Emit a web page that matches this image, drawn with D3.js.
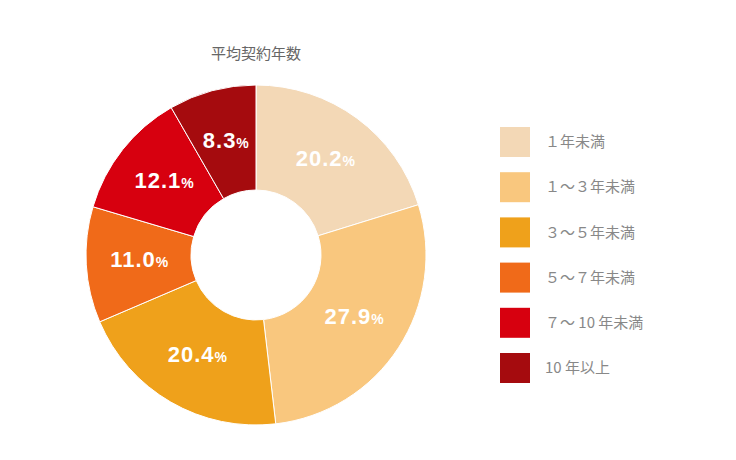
<!DOCTYPE html>
<html><head><meta charset="utf-8">
<script src="https://cdn.jsdelivr.net/npm/d3@7"></script>
<style>body{margin:0;background:#fff}</style></head>
<body><svg id="c" width="736" height="460"></svg>
<script>
const title = "平均契約年数";
const categories = ["１年未満","１～３年未満","３～５年未満","５～７年未満","７～ 10 年未満","10 年以上"];
const values = [20.2, 27.9, 20.4, 11.0, 12.1, 8.3];
const colors = ["#F3D8B6","#F9C77E","#EFA11B","#F06A19","#D7000F","#A50B0E"];

const svg = d3.select("#c");
const font = "'Noto Sans CJK JP','Noto Sans',sans-serif";
const cx = 256, cy = 255, R = 170, r = 65;
svg.append("text").attr("x", cx).attr("y", 59).attr("text-anchor","middle")
  .attr("font-family", font).attr("font-size", 15).attr("fill", "#666").text(title);

const pie = d3.pie().sort(null).value(d => d)(values);
const arc = d3.arc().innerRadius(r).outerRadius(R);
const labelArc = d3.arc().innerRadius(117).outerRadius(117);
const g = svg.append("g").attr("transform", `translate(${cx},${cy})`);
g.selectAll("path").data(pie).join("path").attr("d", arc)
  .attr("fill", (d,i) => colors[i]).attr("stroke","#fff").attr("stroke-width",1);
g.selectAll("text").data(pie).join("text")
  .attr("transform", d => `translate(${labelArc.centroid(d)})`)
  .attr("text-anchor","middle").attr("dy","0.35em")
  .attr("font-family","'Liberation Sans',Arial,sans-serif").attr("font-weight","bold")
  .attr("fill","#fff")
  .each(function(d){
    const t = d3.select(this);
    t.append("tspan").attr("font-size",22).attr("letter-spacing",1).text(d.data.toFixed(1));
    t.append("tspan").attr("font-size",14).text("%");
  });

const lg = svg.append("g");
categories.forEach((c,i) => {
  const y = 127 + i * 45.2;
  lg.append("rect").attr("x",500).attr("y",y).attr("width",30).attr("height",30).attr("fill",colors[i]);
  lg.append("text").attr("x", 545).attr("y", y + 15).attr("dy","0.35em")
    .attr("font-family", font).attr("font-size", 15).attr("fill","#888").text(c);
});
</script></body></html>
